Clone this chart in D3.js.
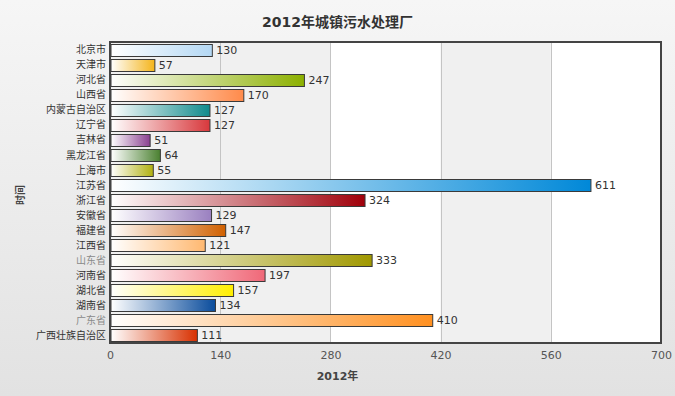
<!DOCTYPE html>
<html>
<head>
<meta charset="utf-8">
<script src="https://cdn.jsdelivr.net/npm/d3@7"></script>
<style>
  body { margin: 0; }
  text { font-family: "DejaVu Sans", "Noto Sans CJK SC", sans-serif; }
</style>
</head>
<body>
<div id="chart"></div>
<script>
var categories = ["北京市", "天津市", "河北省", "山西省", "内蒙古自治区", "辽宁省", "吉林省", "黑龙江省", "上海市", "江苏省",
                  "浙江省", "安徽省", "福建省", "江西省", "山东省", "河南省", "湖北省", "湖南省", "广东省", "广西壮族自治区"];
var values = [130, 57, 247, 170, 127, 127, 51, 64, 55, 611, 324, 129, 147, 121, 333, 197, 157, 134, 410, 111];
var barColors = ["#b4d8f4", "#f4b41a", "#8cb000", "#ff8a4a", "#108a8c", "#d8383c", "#8a4090", "#4a8030", "#b0b010", "#0088d8",
                 "#a0000a", "#9a80c0", "#d06000", "#ffb870", "#a09800", "#f06878", "#ffee00", "#0a4c9c", "#ff9020", "#d83000"];
var xTicks = [0, 140, 280, 420, 560, 700];

var width = 675, height = 396;
var margin = {top: 42, right: 14, bottom: 53, left: 110};

var svg = d3.select("#chart").append("svg")
  .attr("width", width)
  .attr("height", height);

var defs = svg.append("defs");
var bg = defs.append("linearGradient").attr("id", "bg")
  .attr("x1", 0).attr("y1", 0).attr("x2", 0).attr("y2", 1);
bg.append("stop").attr("offset", "0%").attr("stop-color", "#f6f6f6");
bg.append("stop").attr("offset", "100%").attr("stop-color", "#e2e2e2");

svg.append("rect").attr("width", width).attr("height", height).attr("fill", "url(#bg)");

var x = d3.scaleLinear().domain([0, 700]).range([margin.left, width - margin.right]);
var y = d3.scaleBand().domain(categories)
  .range([margin.top, height - margin.bottom])
  .paddingInner(0.22).paddingOuter(0.12);

// plot background + alternate bands
svg.append("rect")
  .attr("x", x(0)).attr("y", margin.top)
  .attr("width", x(700) - x(0)).attr("height", height - margin.bottom - margin.top)
  .attr("fill", "#f0f0f0");

svg.selectAll(".band")
  .data([[280, 420], [560, 700]])
  .enter().append("rect")
  .attr("x", function(d) { return x(d[0]); })
  .attr("y", margin.top)
  .attr("width", function(d) { return x(d[1]) - x(d[0]); })
  .attr("height", height - margin.bottom - margin.top)
  .attr("fill", "#ffffff");

// gridlines
svg.selectAll(".grid")
  .data(xTicks.slice(1, -1))
  .enter().append("line")
  .attr("x1", function(d) { return Math.round(x(d)) + 0.5; })
  .attr("x2", function(d) { return Math.round(x(d)) + 0.5; })
  .attr("y1", margin.top)
  .attr("y2", height - margin.bottom)
  .attr("stroke", "#c4c4c4");

// gradients for bars
barColors.forEach(function(c, i) {
  var g = defs.append("linearGradient").attr("id", "g" + i)
    .attr("x1", 0).attr("y1", 0).attr("x2", 1).attr("y2", 0);
  g.append("stop").attr("offset", "0%").attr("stop-color", "#ffffff");
  g.append("stop").attr("offset", "100%").attr("stop-color", c);
});

svg.selectAll(".bar")
  .data(values)
  .enter().append("rect")
  .attr("class", "bar")
  .attr("x", x(0) + 1)
  .attr("y", function(d, i) { return Math.round(y(categories[i])) + 0.5; })
  .attr("width", function(d) { return x(d) - x(0) - 1; })
  .attr("height", Math.round(y.bandwidth()))
  .attr("fill", function(d, i) { return "url(#g" + i + ")"; })
  .attr("stroke", "#3a3a3a")
  .attr("stroke-width", 1);

svg.selectAll(".val")
  .data(values)
  .enter().append("text")
  .attr("x", function(d) { return x(d) + 4; })
  .attr("y", function(d, i) { return y(categories[i]) + y.bandwidth() / 2; })
  .attr("dy", "0.36em")
  .attr("font-size", 11)
  .attr("fill", "#333")
  .text(function(d) { return d; });

// category labels
svg.selectAll(".cat")
  .data(categories)
  .enter().append("text")
  .attr("x", margin.left - 4)
  .attr("y", function(d) { return y(d) + y.bandwidth() / 2; })
  .attr("dy", "0.36em")
  .attr("text-anchor", "end")
  .attr("font-size", 10)
  .attr("font-family", "Noto Sans CJK SC")
  .attr("fill", function(d) { return (d === "山东省" || d === "广东省") ? "#8a8a8a" : "#333"; })
  .text(function(d) { return d; });

// x axis
var xAxis = svg.append("g")
  .attr("transform", "translate(0," + (height - margin.bottom + 6) + ")")
  .call(d3.axisBottom(x).tickValues(xTicks).tickSize(0).tickPadding(0));
xAxis.select(".domain").remove();
xAxis.selectAll("text")
  .attr("font-size", 11)
  .attr("font-family", "DejaVu Sans")
  .attr("fill", "#555")
  .attr("dy", "0.9em");

// plot border
svg.append("rect")
  .attr("x", x(0)).attr("y", margin.top)
  .attr("width", x(700) - x(0)).attr("height", height - margin.bottom - margin.top)
  .attr("fill", "none")
  .attr("stroke", "#444")
  .attr("stroke-width", 2);

// titles
svg.append("text")
  .attr("x", width / 2).attr("y", 27)
  .attr("text-anchor", "middle")
  .attr("font-size", 14).attr("font-weight", "bold")
  .attr("fill", "#333")
  .text("2012年城镇污水处理厂");

svg.append("text")
  .attr("x", width / 2).attr("y", 380)
  .attr("text-anchor", "middle")
  .attr("font-size", 11).attr("font-weight", "bold")
  .attr("fill", "#444")
  .text("2012年");

svg.append("text")
  .attr("transform", "translate(24,195) rotate(-90)")
  .attr("text-anchor", "middle")
  .attr("font-size", 10).attr("font-weight", "bold")
  .attr("fill", "#444")
  .text("时间");
</script>
</body>
</html>
